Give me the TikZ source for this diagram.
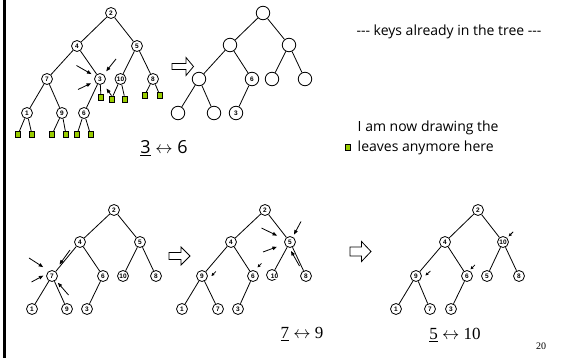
\documentclass[tikz,border=0pt]{standalone}
\usepackage{fontspec}
\usepackage{xcolor}
\usepackage{tikz}
\usetikzlibrary{arrows.meta}
\setmainfont{Liberation Serif}
\newfontfamily\handfont{Open Sans}
\newfontfamily\keyfont{Liberation Sans}
\definecolor{leafgreen}{RGB}{153,204,0}

\tikzset{
  key/.style={draw,circle,line width=0.8pt,minimum size=11pt,inner sep=0pt,
    font=\keyfont\bfseries\fontsize{6.5}{6.5}\selectfont},
  bigkey/.style={key,minimum size=13.5pt},
  leaf/.style={draw,fill=leafgreen,line width=0.7pt,minimum width=5pt,minimum height=6pt,inner sep=0pt},
  pointer/.style={-{Triangle[length=4.5pt,width=3.5pt]},line width=0.8pt},
  tick/.style={-{Triangle[length=3pt,width=2.8pt]},line width=0.8pt},
  hollow/.style={draw,line width=0.8pt,fill=white}
}

\begin{document}
\begin{tikzpicture}[x=1pt,y=-1pt,line width=0.8pt]
\useasboundingbox (0,0) rectangle (576,358);
% Slide edge
\fill (3,0) rectangle (6.3,358);

% ---------- heap with the leaves still drawn ----------
\node[key] (a2) at (111,13) {2};
\node[key] (a4) at (77,46) {4};
\node[key] (a5) at (137,46) {5};
\node[key] (a7) at (47,79) {7};
\node[key] (a3) at (100,79) {3};
\node[key] (a10) at (120.5,79) {10};
\node[key] (a8) at (153,79) {8};
\node[key] (a1) at (27,113) {1};
\node[key] (a9) at (62,113) {9};
\node[key] (a6) at (84,113) {6};
% green leaves
\node[leaf] (a3r) at (101,97.5) {};
\node[leaf] (a10l) at (111.5,99) {};
\node[leaf] (a10r) at (125,99) {};
\node[leaf] (a8l) at (144.5,95.5) {};
\node[leaf] (a8r) at (160,95.5) {};
\node[leaf] (a1l) at (18,134.5) {};
\node[leaf] (a1r) at (32,134.5) {};
\node[leaf] (a9l) at (52,134.5) {};
\node[leaf] (a9r) at (66,134.5) {};
\node[leaf] (a6l) at (77,134.5) {};
\node[leaf] (a6r) at (90.5,134.5) {};
\foreach \p/\c in {a2/a4,a2/a5,a4/a7,a4/a3,a5/a10,a5/a8,a7/a1,a7/a9,a3/a6,
  a3/a3r,a10/a10l,a10/a10r,a8/a8l,a8/a8r,a1/a1l,a1/a1r,a9/a9l,a9/a9r,a6/a6l,a6/a6r}
  \draw (\p) -- (\c);
% pointers at the key being pushed down
\coordinate (pa1) at (76.5,65.5);
\coordinate (pa2) at (78,89.5);
\coordinate (pa3) at (116,59);
\coordinate (pa4) at (106.5,88.5);
\draw[pointer,shorten >=4pt] (pa1) -- (a3);
\draw[pointer,shorten >=4pt] (pa2) -- (a3);
\draw[pointer,shorten >=4pt] (pa3) -- (a3);
\draw[pointer] (a10l.north) -- (pa4);

% hollow arrow
\draw[hollow] (172,63.5) -- (186,63.5) -- (186,57.5) -- (193.5,66.5)
  -- (186,75.5) -- (186,69.5) -- (172,69.5) -- cycle;

% ---------- shape of the tree ----------
\node[bigkey] (b2) at (263,13) {};
\node[bigkey] (b4) at (230,45) {};
\node[bigkey] (b5) at (289,45) {};
\node[bigkey] (b7) at (199,79) {};
\node[bigkey] (b6) at (252,79) {6};
\node[bigkey] (b10) at (272,79) {};
\node[bigkey] (b8) at (305,79) {};
\node[bigkey] (b1) at (178,113) {};
\node[bigkey] (b9) at (214,113) {};
\node[bigkey] (b3) at (236,113) {3};
\foreach \p/\c in {b2/b4,b2/b5,b4/b7,b4/b6,b5/b10,b5/b8,b7/b1,b7/b9,b6/b3}
  \draw (\p) -- (\c);

% Notes
\node[font=\handfont\fontsize{14}{16}\selectfont] (keys) at (449,32)
  {{-}{-}{-} keys already in the tree {-}{-}{-}};
\node[anchor=west,align=left,font=\handfont\fontsize{14}{20}\selectfont] (note) at (354,138)
  {I am now drawing the\\leaves anymore here};
\node[leaf] (legend) at (348,147.5) {};
\node[font=\handfont\fontsize{18}{20}\selectfont] (swapa) at (164,148)
  {\underline{3} $\leftrightarrow$ 6};

% ---------- after 3 <-> 6 ----------
\node[key] (c2) at (114,210) {2};
\node[key] (c4) at (80,242) {4};
\node[key] (c5) at (140,242) {5};
\node[key] (c7) at (52,276) {7};
\node[key] (c6) at (103,276) {6};
\node[key] (c10) at (123,276) {10};
\node[key] (c8) at (156,276) {8};
\node[key] (c1) at (32,309) {1};
\node[key] (c9) at (67,309) {9};
\node[key] (c3) at (87,309) {3};
\foreach \p/\c in {c2/c4,c2/c5,c4/c7,c4/c6,c5/c10,c5/c8,c7/c1,c7/c9,c6/c3}
  \draw (\p) -- (\c);
\coordinate (pc1) at (29,258);
\coordinate (pc2) at (31.5,282);
\coordinate (pc3) at (70,250);
\coordinate (pc4) at (59.5,264.5);
\coordinate (pc5) at (68.5,295);
\draw[pointer,shorten >=7pt] (pc1) -- (c7.120);
\draw[pointer,shorten >=3.5pt] (pc2) -- (c7.160);
\draw[pointer] (pc3) -- (pc4);
\draw[pointer,shorten >=3pt] (pc5) -- (c7);

\draw[hollow] (169,252.5) -- (181,252.5) -- (181,247) -- (190,256)
  -- (181,265) -- (181,259.5) -- (169,259.5) -- cycle;

% ---------- after 7 <-> 9 ----------
\node[key] (d2) at (265,210) {2};
\node[key] (d4) at (231,242) {4};
\node[key] (d5) at (290,242) {5};
\node[key] (d9) at (202,276) {9};
\node[key] (d6) at (253,276) {6};
\node[key] (d10) at (272,275) {};
\node[font=\keyfont\bfseries\fontsize{6.5}{6.5}\selectfont,fill=white,inner sep=0.3pt] (d10t) at (274.5,276.5) {10};
\node[key] (d8) at (306,276) {8};
\node[key] (d1) at (182,309) {1};
\node[key] (d7) at (218,309) {7};
\node[key] (d3) at (238,309) {3};
\foreach \p/\c in {d2/d4,d2/d5,d4/d9,d4/d6,d5/d10,d5/d8,d9/d1,d9/d7,d6/d3}
  \draw (\p) -- (\c);
\coordinate (pd1) at (261.5,228);
\coordinate (pd2) at (263,252);
\coordinate (pd3) at (301,221.5);
\coordinate (pd4) at (299.5,266);
\coordinate (pd5) at (291,251);
\draw[pointer,shorten >=8.5pt] (pd1) -- (d5);
\draw[pointer,shorten >=8pt] (pd2) -- (d5);
\draw[pointer,shorten >=2.5pt] (pd3) -- (d5);
\draw[pointer] (pd4) -- (pd5);
\draw[tick] ([shift={(8pt,4.5pt)}]d9.east) -- ([shift={(3.5pt,0pt)}]d9.east);
\draw[tick] ([shift={(5.5pt,7.5pt)}]d6.60) -- ([shift={(1.5pt,3.5pt)}]d6.60);
\node[font=\fontsize{17}{20}\selectfont] (swapd) at (302,334)
  {\underline{7} $\leftrightarrow$ 9};

\draw[hollow] (350,247) -- (361.5,247) -- (361.5,241.5) -- (371,251.5)
  -- (361.5,261.5) -- (361.5,256) -- (350,256) -- cycle;

% ---------- after 5 <-> 10 ----------
\node[key] (e2) at (478,210) {2};
\node[key] (e4) at (445,242) {4};
\node[key] (e10) at (503,242) {10};
\node[key] (e9) at (416,276) {9};
\node[key] (e6) at (467,276) {6};
\node[key] (e5) at (487,276) {5};
\node[key] (e8) at (519,276) {8};
\node[key] (e1) at (396,309) {1};
\node[key] (e7) at (430,309) {7};
\node[key] (e3) at (451,309) {3};
\foreach \p/\c in {e2/e4,e2/e10,e4/e9,e4/e6,e10/e5,e10/e8,e9/e1,e9/e7,e6/e3}
  \draw (\p) -- (\c);
\draw[tick] ([shift={(8.5pt,5pt)}]e9.east) -- ([shift={(3.5pt,0.5pt)}]e9.east);
\draw[tick] ([shift={(5pt,6pt)}]e6.60) -- ([shift={(0.5pt,1.5pt)}]e6.60);
\draw[tick] ([shift={(6pt,6pt)}]e10.45) -- ([shift={(1.5pt,1.5pt)}]e10.45);
\node[font=\fontsize{17}{20}\selectfont] (swape) at (455,335)
  {\underline{5} $\leftrightarrow$ 10};

% page number
\node[font=\fontsize{10}{12}\selectfont] (page) at (541,346) {20};
\end{tikzpicture}
\end{document}
